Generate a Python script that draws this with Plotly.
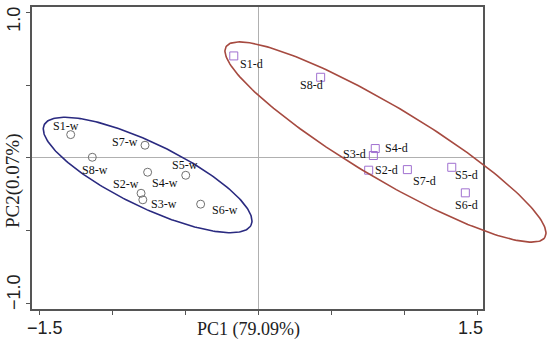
import numpy as np
import plotly.graph_objects as go

# ---- data ----
w_labels = ["S1-w", "S7-w", "S8-w", "S4-w", "S5-w", "S2-w", "S3-w", "S6-w"]
w_pc1 = [-1.283, -0.774, -1.135, -0.756, -0.495, -0.801, -0.789, -0.393]
w_pc2 = [0.160, 0.087, 0.004, -0.099, -0.120, -0.244, -0.289, -0.319]

d_labels = ["S1-d", "S8-d", "S4-d", "S3-d", "S2-d", "S7-d", "S5-d", "S6-d"]
d_pc1 = [-0.166, 0.429, 0.803, 0.790, 0.758, 1.023, 1.327, 1.420]
d_pc2 = [0.702, 0.555, 0.064, 0.016, -0.085, -0.081, -0.065, -0.241]

# ellipse parameters: center x, center y, semi-major, semi-minor, angle (deg)
w_ellipse = [-0.756, -0.118, 0.788, 0.219, -26.0]
d_ellipse = [0.873, 0.109, 1.274, 0.247, -31.0]

x_ticks = [-1.5, -1.0, -0.5, 0.0, 0.5, 1.0, 1.5]
y_ticks = [-1.0, -0.5, 0.0, 0.5, 1.0]
x_tick_text = {-1.5: "\u22121.5", 1.5: "1.5"}
y_tick_text = {1.0: "1.0", -1.0: "\u22121.0"}
x_title = "PC1 (79.09%)"
y_title = "PC2(0.07%)"

# ---- layout constants (pixels) ----
W, H = 550, 344
L, R, T, B = 32, 483, 7, 308.7
xr = [-1.548, 1.541]
yr = [-1.039, 1.039]

# label offsets (px): dx right, dy up
w_off = [(-5, 9), (-20, 3), (3, -13), (17, -11), (-1, 10), (-15, 9), (21, -4), (24, -6)]
d_off = [(18, -8), (-9, -8), (21, 1), (-19, 2), (18, 0), (17, -11), (15, -8), (1, -12)]

SERIF = "Liberation Serif, Times New Roman, serif"
SANS = "Liberation Sans, Arial, sans-serif"

def ellipse(p, n=241):
    cx, cy, a, b, ang = p
    t = np.linspace(0, 2 * np.pi, n)
    th = np.deg2rad(ang)
    x = cx + a * np.cos(t) * np.cos(th) - b * np.sin(t) * np.sin(th)
    y = cy + a * np.cos(t) * np.sin(th) + b * np.sin(t) * np.cos(th)
    return x, y

fig = go.Figure()

fig.add_trace(go.Scatter(x=w_pc1, y=w_pc2, mode="markers",
                         marker=dict(symbol="circle-open", size=8, color="#707070",
                                     line=dict(width=1, color="#707070")),
                         hoverinfo="skip", showlegend=False, cliponaxis=False))
fig.add_trace(go.Scatter(x=d_pc1, y=d_pc2, mode="markers",
                         marker=dict(symbol="square-open", size=8, color="#a070d0",
                                     line=dict(width=1, color="#a070d0")),
                         hoverinfo="skip", showlegend=False, cliponaxis=False))

ex, ey = ellipse(w_ellipse)
fig.add_trace(go.Scatter(x=ex, y=ey, mode="lines", xaxis="x2", yaxis="y2",
                         line=dict(color="#2a2a80", width=1.6),
                         hoverinfo="skip", showlegend=False))
ex, ey = ellipse(d_ellipse)
fig.add_trace(go.Scatter(x=ex, y=ey, mode="lines", xaxis="x2", yaxis="y2",
                         line=dict(color="#a64a40", width=1.6),
                         hoverinfo="skip", showlegend=False))

ppx = (R - L) / (xr[1] - xr[0])
ppy = (B - T) / (yr[1] - yr[0])
x2r = [xr[0] - L / ppx, xr[1] + (W - R) / ppx]
y2r = [yr[0] - (H - B) / ppy, yr[1] + T / ppy]

C = dict(xanchor="center", yanchor="middle", showarrow=False)
ann = []
for lab, x, y, (dx, dy) in zip(w_labels, w_pc1, w_pc2, w_off):
    ann.append(dict(x=x, y=y, xref="x", yref="y", text=lab, xshift=dx, yshift=dy,
                    font=dict(family=SERIF, size=12, color="#111"), **C))
for lab, x, y, (dx, dy) in zip(d_labels, d_pc1, d_pc2, d_off):
    ann.append(dict(x=x, y=y, xref="x", yref="y", text=lab, xshift=dx, yshift=dy,
                    font=dict(family=SERIF, size=12, color="#111"), **C))

# tick labels
x_shift = {-1.5: 6, 1.5: -7}
for v, txt in x_tick_text.items():
    ann.append(dict(x=v, y=1 - 327.5 / H, xref="x", yref="paper", text=txt,
                    xshift=x_shift[v], font=dict(family=SANS, size=18, color="#222"), **C))
y_shift = {1.0: -7, -1.0: 11}
for v, txt in y_tick_text.items():
    ann.append(dict(x=14 / W, y=v, xref="paper", yref="y", text=txt,
                    textangle=-90, yshift=y_shift[v], font=dict(family=SANS, size=18, color="#222"), **C))
# axis titles
ann.append(dict(x=248 / W, y=1 - 329 / H, xref="paper", yref="paper", text=x_title,
                font=dict(family=SERIF, size=18, color="#222"), **C))
ann.append(dict(x=13 / W, y=1 - 181 / H, xref="paper", yref="paper", text=y_title,
                textangle=-90, font=dict(family=SERIF, size=19, color="#222"), **C))

axis_common = dict(showgrid=False, showline=True, linecolor="#555", linewidth=2, mirror=True,
                   ticks="outside", ticklen=4, tickwidth=1, tickcolor="#555",
                   zeroline=True, zerolinecolor="#b0b0b0", zerolinewidth=1,
                   showticklabels=False, automargin=False)

fig.update_layout(
    width=W, height=H,
    margin=dict(l=0, r=0, t=0, b=0),
    paper_bgcolor="white", plot_bgcolor="rgba(0,0,0,0)",
    xaxis=dict(domain=[L / W, R / W], range=xr, tickvals=x_ticks, **axis_common),
    yaxis=dict(domain=[1 - B / H, 1 - T / H], range=yr, tickvals=y_ticks, **axis_common),
    xaxis2=dict(domain=[0, 1], range=x2r, visible=False, anchor="y2"),
    yaxis2=dict(domain=[0, 1], range=y2r, visible=False, anchor="x2"),
    annotations=ann,
    showlegend=False,
)

fig.write_html("out.html", config={"displayModeBar": False},
               post_script="document.body.style.margin='0';document.body.style.overflow='hidden';")
